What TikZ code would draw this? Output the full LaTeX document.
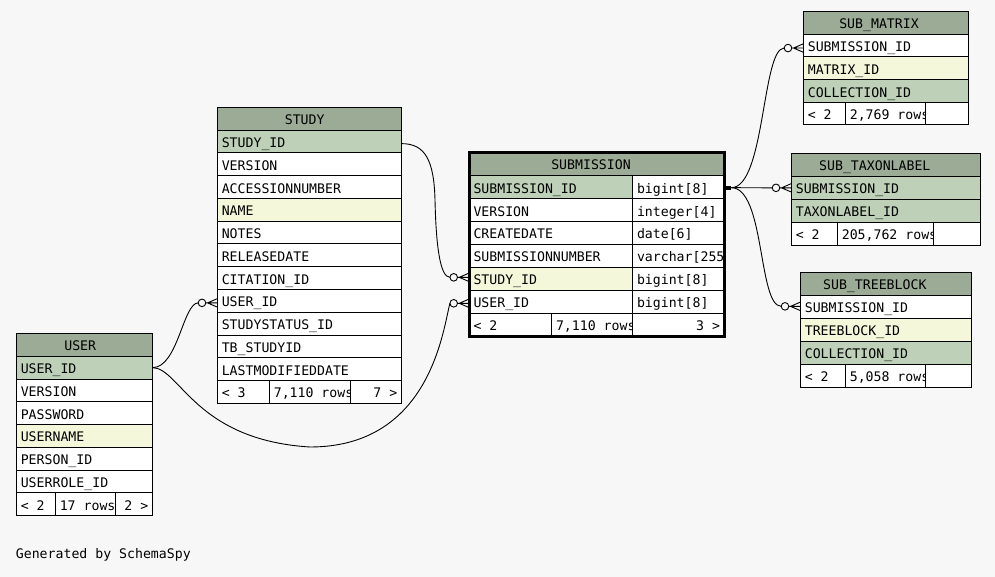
\documentclass[tikz,border=0pt]{standalone}
\usepackage{fontspec}
\newfontfamily\tmono{DejaVu Sans Mono}
\usetikzlibrary{calc}
\definecolor{bgc}{HTML}{F7F7F7}
\definecolor{hdr}{HTML}{9BAB96}
\definecolor{pk}{HTML}{BED1B8}
\definecolor{idx}{HTML}{F4F7DA}
\newcommand\tfont{\tmono\fontsize{13.2pt}{15pt}\selectfont}
\tikzset{
  cell/.style={draw=black, line width=1pt, inner ysep=0pt, inner xsep=4.3pt, outer sep=0pt,
    anchor=north west, text height=12.2pt, text depth=0pt, font=\tfont},
  ttl/.style={font=\tfont, text height=9.6pt, text depth=0pt, inner sep=0pt},
  conn/.style={draw=black, line width=0.9pt},
  ring/.style={circle, draw=black, line width=0.9pt, fill=bgc, minimum size=7.6pt, inner sep=0pt, outer sep=0pt},
  tframe/.style={draw=black, line width=1pt},
}
% #1 name, #2 x, #3 y, #4 w, #5 h, #6 fill, #7 align, #8 text
\newcommand\tcell[8]{%
  \node[cell, fill=#6, minimum width=#4pt, minimum height=#5pt,
        text width=\the\dimexpr#4pt-8.6pt\relax, align=#7] (#1) at (#2,#3) {\mbox{\spaceskip=0pt\xspaceskip=0pt\relax #8}};}
\newcommand\crowfoot[2]{%
  \draw[conn] (#1.east) -- (#2)
    ($(#2)+(-10,0)$) -- ($(#2)+(0,4.3)$)
    ($(#2)+(-10,0)$) -- ($(#2)+(0,-4.3)$);}
\begin{document}
\begin{tikzpicture}[x=1pt,y=-1pt]
\fill[bgc] (0,0) rectangle (995,577);
\useasboundingbox (0,0) rectangle (995,577);

% ---------------- USER ----------------
\begin{scope}
\clip (16.5,333.5) rectangle (152.5,515.5);
\tcell{user-h}{16.5}{333.5}{136}{22.75}{hdr}{left}{}
\foreach \nm/\tx/\cl [count=\i] in {uid/USER\_ID/pk, ver/VERSION/white, pw/PASSWORD/white,
   un/USERNAME/idx, pid/PERSON\_ID/white, rid/USERROLE\_ID/white}{
  \pgfmathsetmacro\yy{333.5+\i*22.75}
  \tcell{user-\nm}{16.5}{\yy}{136}{22.75}{\cl}{left}{\tx}
}
\tcell{user-f1}{16.5}{492.75}{39}{22.75}{white}{left}{< 2}
\tcell{user-f2}{55.5}{492.75}{60}{22.75}{white}{left}{17 rows}
\tcell{user-f3}{115.5}{492.75}{37}{22.75}{white}{right}{2 >}
\end{scope}
\draw[tframe] (16.5,333.5) rectangle (152.5,515.5);
\node[ttl] (user-title) at (80.2,345.8) {USER};

% ---------------- STUDY ----------------
\begin{scope}
\clip (217.5,107.5) rectangle (401.5,403.25);
\tcell{study-h}{217.5}{107.5}{184}{22.75}{hdr}{left}{}
\foreach \nm/\tx/\cl [count=\i] in {sid/STUDY\_ID/pk, ver/VERSION/white, acc/ACCESSIONNUMBER/white,
   name/NAME/idx, notes/NOTES/white, rel/RELEASEDATE/white, cit/CITATION\_ID/white,
   uid/USER\_ID/white, ssid/STUDYSTATUS\_ID/white, tbs/TB\_STUDYID/white, lmd/LASTMODIFIEDDATE/white}{
  \pgfmathsetmacro\yy{107.5+\i*22.75}
  \tcell{study-\nm}{217.5}{\yy}{184}{22.75}{\cl}{left}{\tx}
}
\tcell{study-f1}{217.5}{380.5}{52}{22.75}{white}{left}{< 3}
\tcell{study-f2}{269.5}{380.5}{80.5}{22.75}{white}{left}{7,110 rows}
\tcell{study-f3}{350}{380.5}{51.5}{22.75}{white}{right}{7 >}
\end{scope}
\draw[tframe] (217.5,107.5) rectangle (401.5,403.25);
\node[ttl] (study-title) at (304.7,119.8) {STUDY};

% ---------------- SUBMISSION ----------------
\begin{scope}
\clip (469.2,152.5) rectangle (724.3,336.26);
\tcell{sub-h}{469.2}{152.5}{255.1}{22.97}{hdr}{left}{}
\foreach \nm/\tx/\cl/\ty [count=\i] in {sid/SUBMISSION\_ID/pk/bigint[8], ver/VERSION/white/integer[4],
   cd/CREATEDATE/white/date[6], sn/SUBMISSIONNUMBER/white/varchar[255],
   stid/STUDY\_ID/idx/bigint[8], uid/USER\_ID/white/bigint[8]}{
  \pgfmathsetmacro\yy{152.5+\i*22.97}
  \tcell{sub-\nm}{469.2}{\yy}{163.5}{22.97}{\cl}{left}{\tx}
  \tcell{sub-\nm t}{632.7}{\yy}{91.6}{22.97}{white}{left}{\ty}
}
\tcell{sub-f1}{469.2}{313.29}{82.5}{22.97}{white}{left}{< 2}
\tcell{sub-f2}{551.7}{313.29}{81}{22.97}{white}{left}{7,110 rows}
\tcell{sub-f3}{632.7}{313.29}{91.6}{22.97}{white}{right}{3 >}
\end{scope}
\draw[draw=black, line width=3pt] (469.2,152.5) rectangle (724.3,336.26);
\node[ttl] (sub-title) at (591,165) {SUBMISSION};

% ---------------- SUB_MATRIX ----------------
\begin{scope}
\clip (803.5,11.5) rectangle (968.5,125);
\tcell{smx-h}{803.5}{11.5}{165}{22.7}{hdr}{left}{}
\foreach \nm/\tx/\cl [count=\i] in {sid/SUBMISSION\_ID/white, mid/MATRIX\_ID/idx, cid/COLLECTION\_ID/pk}{
  \pgfmathsetmacro\yy{11.5+\i*22.7}
  \tcell{smx-\nm}{803.5}{\yy}{165}{22.7}{\cl}{left}{\tx}
}
\tcell{smx-f1}{803.5}{102.3}{42}{22.7}{white}{left}{< 2}
\tcell{smx-f2}{845.5}{102.3}{80}{22.7}{white}{left}{2,769 rows}
\tcell{smx-f3}{925.5}{102.3}{43}{22.7}{white}{right}{}
\end{scope}
\draw[tframe] (803.5,11.5) rectangle (968.5,125);
\node[ttl] (smx-title) at (879,23.7) {SUB\_MATRIX};

% ---------------- SUB_TAXONLABEL ----------------
\begin{scope}
\clip (791.5,153.5) rectangle (980.5,245.1);
\tcell{tx-h}{791.5}{153.5}{189}{22.9}{hdr}{left}{}
\foreach \nm/\tx/\cl [count=\i] in {sid/SUBMISSION\_ID/pk, tid/TAXONLABEL\_ID/pk}{
  \pgfmathsetmacro\yy{153.5+\i*22.9}
  \tcell{tx-\nm}{791.5}{\yy}{189}{22.9}{\cl}{left}{\tx}
}
\tcell{tx-f1}{791.5}{222.2}{46}{22.9}{white}{left}{< 2}
\tcell{tx-f2}{837.5}{222.2}{96}{22.9}{white}{left}{205,762 rows}
\tcell{tx-f3}{933.5}{222.2}{47}{22.9}{white}{right}{}
\end{scope}
\draw[tframe] (791.5,153.5) rectangle (980.5,245.1);
\node[ttl] (tx-title) at (874.8,165.8) {SUB\_TAXONLABEL};

% ---------------- SUB_TREEBLOCK ----------------
\begin{scope}
\clip (800.5,272.5) rectangle (971.5,387);
\tcell{tb-h}{800.5}{272.5}{171}{22.9}{hdr}{left}{}
\foreach \nm/\tx/\cl [count=\i] in {sid/SUBMISSION\_ID/white, tbid/TREEBLOCK\_ID/idx, cid/COLLECTION\_ID/pk}{
  \pgfmathsetmacro\yy{272.5+\i*22.9}
  \tcell{tb-\nm}{800.5}{\yy}{171}{22.9}{\cl}{left}{\tx}
}
\tcell{tb-f1}{800.5}{364.1}{45}{22.9}{white}{left}{< 2}
\tcell{tb-f2}{845.5}{364.1}{80}{22.9}{white}{left}{5,058 rows}
\tcell{tb-f3}{925.5}{364.1}{46}{22.9}{white}{right}{}
\end{scope}
\draw[tframe] (800.5,272.5) rectangle (971.5,387);
\node[ttl] (tb-title) at (874.8,284.8) {SUB\_TREEBLOCK};

% ---------------- connectors ----------------
% USER.USER_ID -> STUDY.USER_ID
\coordinate (eA) at ([yshift=-2pt]study-uid.west);
\node[ring] (rA) at ($(eA)+(-15.5,0)$) {};
\draw[conn] (user-uid.east) .. controls (178,367.6) and (183,303) .. (rA.west);
\crowfoot{rA}{eA}

% USER.USER_ID -> SUBMISSION.USER_ID
\coordinate (eB) at ([yshift=-1.5pt]sub-uid.west);
\node[ring] (rB) at ($(eB)+(-15.5,0)$) {};
\draw[conn] (user-uid.east) .. controls (180,368) and (195,440) .. (310,447)
   .. controls (430,447) and (443,330) .. (rB.west);
\crowfoot{rB}{eB}

% STUDY.STUDY_ID -> SUBMISSION.STUDY_ID
\coordinate (eC) at ([yshift=1.5pt]sub-stid.west);
\node[ring] (rC) at ($(eC)+(-15.5,0)$) {};
\draw[conn] ([yshift=-2pt]study-sid.east) .. controls (425,143.6) and (434,160) .. (435,200)
   .. controls (436,245) and (440,277.3) .. (rC.west);
\crowfoot{rC}{eC}

% SUBMISSION.SUBMISSION_ID -> SUB_* tables
\coordinate (ss) at ([xshift=7pt,yshift=-0.7pt]sub-sidt.east);
\draw[line width=3.8pt] ([yshift=-0.7pt]sub-sidt.east) -- (ss);

\coordinate (eD) at ([yshift=-2.5pt]smx-sid.west);
\node[ring] (rD) at ($(eD)+(-15.5,0)$) {};
\draw[conn] (ss) .. controls (765,187.7) and (762,48) .. (rD.west);
\crowfoot{rD}{eD}

\coordinate (eE) at (tx-sid.west);
\node[ring] (rE) at ($(eE)+(-15.5,0)$) {};
\draw[conn] (ss) -- (rE.west);
\crowfoot{rE}{eE}

\coordinate (eF) at ([yshift=0.5pt]tb-sid.west);
\node[ring] (rF) at ($(eF)+(-15.5,0)$) {};
\draw[conn] (ss) .. controls (765,188) and (758,306) .. (rF.west);
\crowfoot{rF}{eF}

\node[font=\tfont, anchor=base west, inner sep=0pt] (gen) at (15.7,558.3) {Generated by SchemaSpy};
\end{tikzpicture}
\end{document}
